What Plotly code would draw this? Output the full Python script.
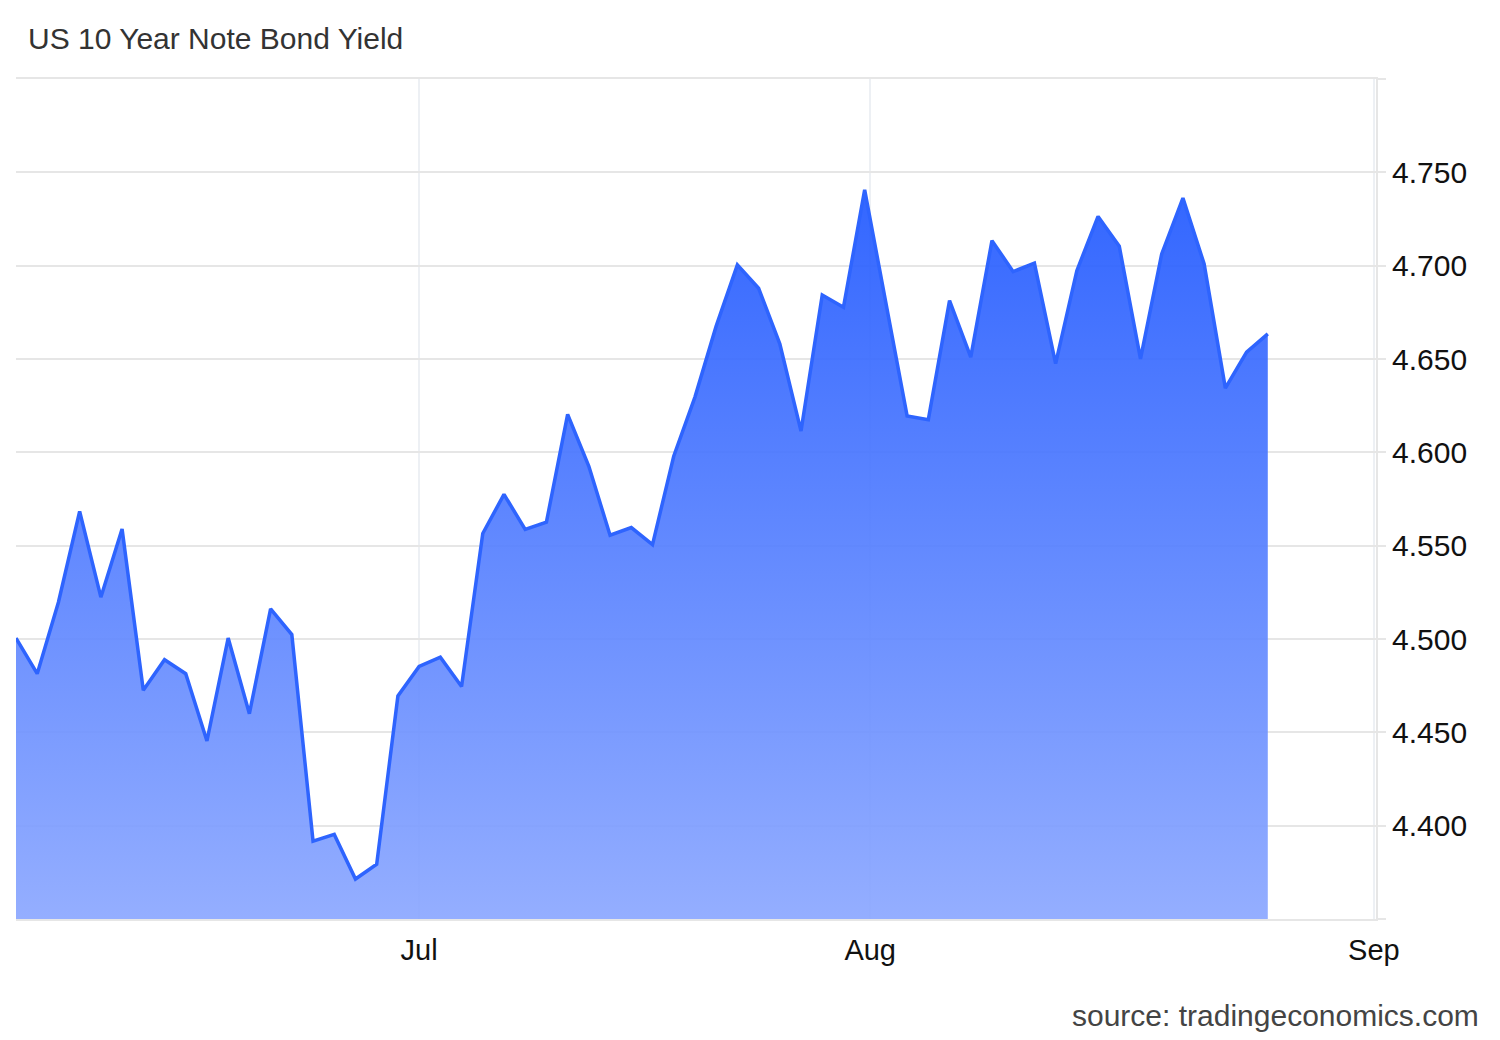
import plotly.graph_objects as go

# trading-day index -> yield (%)
day_index = list(range(60))
yields = [
    4.5005, 4.4814, 4.5197, 4.5684, 4.5224, 4.5589, 4.4725, 4.4889, 4.4814, 4.4454,
    4.5005, 4.4600, 4.5161, 4.5024, 4.3917, 4.3953, 4.3714, 4.3793, 4.4695, 4.4853,
    4.4903, 4.4745, 4.5565, 4.5775, 4.5587, 4.5626, 4.6203, 4.5925, 4.5556, 4.5597,
    4.5506, 4.5979, 4.6296, 4.6676, 4.7004, 4.6879, 4.6581, 4.6114, 4.6843, 4.6777,
    4.7406, 4.6800, 4.6195, 4.6175, 4.6813, 4.6510, 4.7134, 4.6968, 4.7014, 4.6475,
    4.6973, 4.7264, 4.7104, 4.6501, 4.7063, 4.7362, 4.7009, 4.6344, 4.6537, 4.6635,
]

month_ticks = [19, 40.26, 64]
month_labels = ["Jul", "Aug", "Sep"]

y_ticks = [4.35, 4.40, 4.45, 4.50, 4.55, 4.60, 4.65, 4.70, 4.75, 4.80]
y_labels = ["", "4.400", "4.450", "4.500", "4.550", "4.600", "4.650", "4.700", "4.750", ""]

fig = go.Figure()

fig.add_trace(go.Scatter(
    x=day_index,
    y=yields,
    mode='lines',
    fill='tozeroy',
    fillgradient=dict(
        type='vertical',
        start=4.35,
        stop=max(yields),
        colorscale=[[0, 'rgba(139,167,255,0.92)'], [1, 'rgba(33,89,255,0.92)']],
    ),
    line=dict(color='#2e64fe', width=3.5),
    hoverinfo='skip',
    showlegend=False,
))

fig.update_layout(
    width=1500,
    height=1040,
    margin=dict(l=8, r=132, t=71, b=129),
    plot_bgcolor='white',
    paper_bgcolor='white',
    font=dict(family='Liberation Sans, Arial, sans-serif', size=29, color='#111'),
    xaxis=dict(
        range=[0, 64.1],
        tickvals=month_ticks,
        ticktext=month_labels,
        showgrid=True,
        gridcolor='#edf0f4',
        gridwidth=2,
        zeroline=False,
        showline=True,
        mirror=True,
        linecolor='#e6e6e6',
        linewidth=2,
        ticks='',
        ticklabelstandoff=4,
    ),
    yaxis=dict(
        range=[4.35, 4.80],
        side='right',
        tickvals=y_ticks,
        ticktext=y_labels,
        tickfont=dict(size=30),
        showgrid=True,
        gridcolor='#e6e6e6',
        gridwidth=2,
        zeroline=False,
        showline=True,
        linecolor='#e6e6e6',
        linewidth=2,
        ticks='outside',
        ticklen=8,
        tickwidth=2,
        tickcolor='#e6e6e6',
    ),
)

fig.add_annotation(
    text="US 10 Year Note Bond Yield",
    xref='paper', yref='paper', x=0.0, y=1.0,
    xanchor='left', yanchor='bottom', yshift=22, xshift=10,
    showarrow=False,
    font=dict(size=30, color='#333'),
)
fig.add_annotation(
    text="source: tradingeconomics.com",
    xref='paper', yref='paper', x=1.0, y=0.0,
    xanchor='right', yanchor='top', xshift=105, yshift=-78,
    showarrow=False,
    font=dict(size=30, color='#444'),
)

fig.write_html("out.html")
